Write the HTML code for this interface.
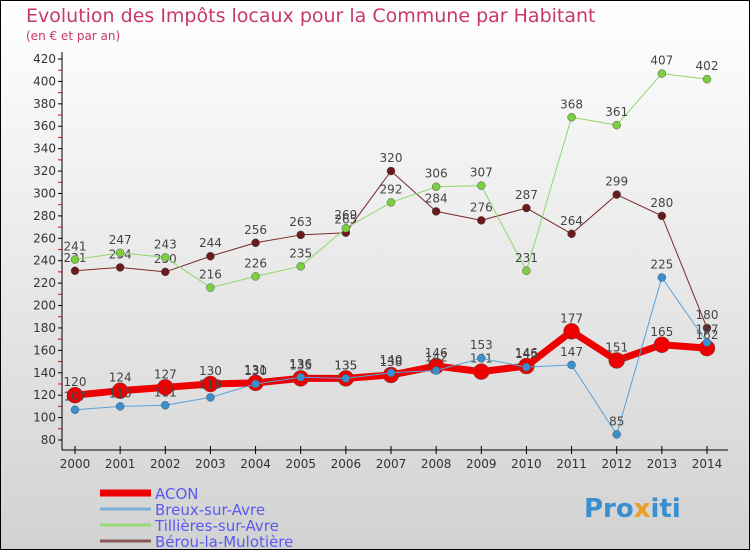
<!DOCTYPE html>
<html><head><meta charset="utf-8"><style>
body{margin:0}
svg{display:block;font-family:"DejaVu Sans","Liberation Sans",sans-serif}
</style></head><body>
<svg id="c" width="750" height="550" viewBox="0 0 750 550">
<defs><linearGradient id="bg" x1="0" y1="0" x2="0" y2="1"><stop offset="0" stop-color="#ffffff"/><stop offset="1" stop-color="#d2d2d2"/></linearGradient></defs>
<rect x="0.5" y="0.5" width="749" height="549" fill="url(#bg)" stroke="#000"/>
<text x="26" y="22" font-size="19" fill="#c8386a">Evolution des Impôts locaux pour la Commune par Habitant</text>
<text x="26" y="40" font-size="12" fill="#c8386a">(en € et par an)</text>
<g id="axes"></g><g id="series"></g><g id="legend"></g>
<text x="584" y="517" font-size="26" font-weight="bold" fill="#3a8fd0">Pro<tspan fill="#e8a020">x</tspan>iti</text>
</svg>
<script>
const years=[2000,2001,2002,2003,2004,2005,2006,2007,2008,2009,2010,2011,2012,2013,2014];
const yTicks=[80,100,120,140,160,180,200,220,240,260,280,300,320,340,360,380,400,420];
const acon=[120,124,127,130,131,135,135,138,146,141,146,177,151,165,162];
const breux=[107,110,111,118,130,136,135,140,142,153,145,147,85,225,167];
const tillieres=[241,247,243,216,226,235,269,292,306,307,231,368,361,407,402];
const berou=[231,234,230,244,256,263,265,320,284,276,287,264,299,280,180];
const seriesNames=["ACON","Breux-sur-Avre","Tillières-sur-Avre","Bérou-la-Mulotière"];
const NS="http://www.w3.org/2000/svg";
const X=i=>75+i*(707-75)/14;
const Y=v=>440-(v-80)*(440-59)/340;
function mk(t,a,p){const e=document.createElementNS(NS,t);for(const k in a)e.setAttribute(k,a[k]);(p||document.getElementById('c')).appendChild(e);return e;}
const ax=document.getElementById('axes');
const yl=mk('line',{x1:62,y1:52,x2:62,y2:450,stroke:'#000'},ax);


const xl=mk('line',{x1:62,y1:450,x2:728,y2:450,stroke:'#000'},ax);


yTicks.forEach((v,i)=>{
  mk('line',{x1:58,y1:Y(v),x2:62,y2:Y(v),stroke:'#000'},ax);
  if(i<yTicks.length-1) mk('line',{x1:58,y1:Y(v+10),x2:62,y2:Y(v+10),stroke:'#e00'},ax);
  const t=mk('text',{x:56,y:Y(v)+4,'font-size':12,fill:'#333','text-anchor':'end'},ax);
  t.textContent=v;
  
  
});
years.forEach((y,i)=>{
  mk('line',{x1:X(i),y1:446,x2:X(i),y2:454,stroke:'#000'},ax);
  const t=mk('text',{x:X(i),y:468,'font-size':12,fill:'#333','text-anchor':'middle'},ax);
  t.textContent=y;
  
  
});
const sg=document.getElementById('series');
function draw(data,color,w,r,dot,name){
  const g=mk('g',{},sg);
  
  
  mk('polyline',{points:data.map((v,i)=>X(i)+','+Y(v)).join(' '),fill:'none',stroke:color,'stroke-width':w,'stroke-linejoin':'round'},g);
  data.forEach((v,i)=>{
    const c=mk('circle',{cx:X(i),cy:Y(v),r:r,fill:dot,stroke:'#555','stroke-width':0.5},g);
    
    
    const t=mk('text',{x:X(i),y:Y(v)-9,'font-size':12,fill:'#444','text-anchor':'middle'},g);
    t.textContent=v;
  });
}
draw(berou,'#7a2a2a',1,4,'#6a1a1a','series-berou');
draw(tillieres,'#8ed86a',1,4,'#7cd040','series-tillieres');
draw(acon,'#ee0000',7,8,'#ee0000','series-acon');
draw(breux,'#5aa0d8',1,4,'#3a8fd0','series-breux');
const lg=document.getElementById('legend');
const lc=['#ee0000','#7ab0d8','#9ad878','#8a5a5a'],lw=[7,3,3,3];
seriesNames.forEach((n,i)=>{
  const y=493+i*16;
  mk('line',{x1:100,y1:y,x2:151,y2:y,stroke:lc[i],'stroke-width':lw[i]},lg);
  const t=mk('text',{x:155,y:y+6,'font-size':15,fill:'#5a5af0'},lg);
  t.textContent=n;
  
  
});
</script>
</body></html>
